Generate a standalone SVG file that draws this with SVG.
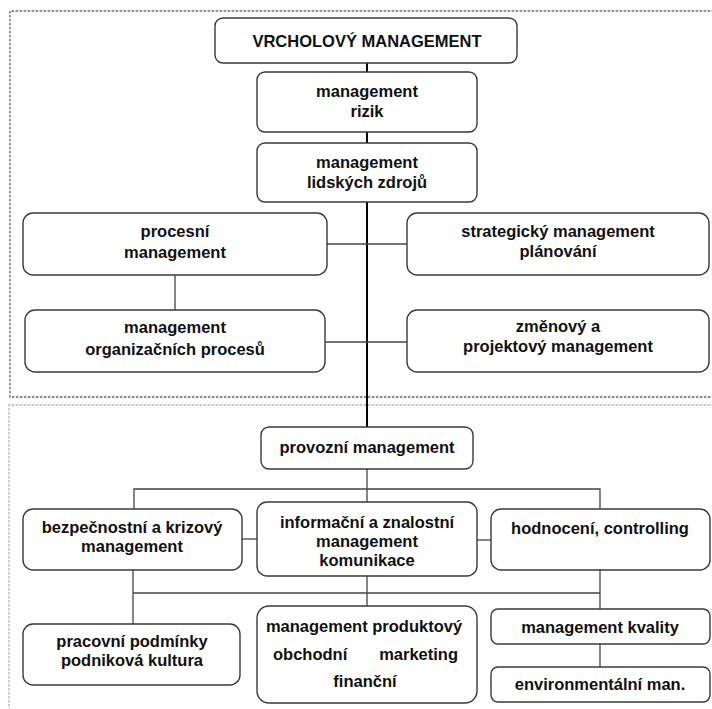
<svg xmlns="http://www.w3.org/2000/svg" width="712" height="709" viewBox="0 0 712 709">
  <style>
    .box { fill: #ffffff; stroke: #3a3a3a; stroke-width: 1.4; }
    .lbl { font-family: "Liberation Sans", Arial, sans-serif; font-weight: bold; font-size: 16.5px; fill: #111111; text-anchor: middle; }
    .lbl-l { font-family: "Liberation Sans", Arial, sans-serif; font-weight: bold; font-size: 16.5px; fill: #111111; }
    .lbl-r { font-family: "Liberation Sans", Arial, sans-serif; font-weight: bold; font-size: 16.5px; fill: #111111; text-anchor: end; }
    .conn { stroke: #444444; stroke-width: 1.3; fill: none; }
    .spine { stroke: #000000; stroke-width: 2; fill: none; }
    .zone-top { fill: none; stroke: #666666; stroke-width: 1.3; stroke-dasharray: 2.5 1.5; }
    .zone-bottom { fill: none; stroke: #b0b0b0; stroke-width: 1.3; stroke-dasharray: 2.5 1.5; }
  </style>

  <!-- level zones -->
  <g id="zones">
    <path class="zone-top" d="M714,11 H10 V397 H714"/>
    <path class="zone-bottom" d="M714,405 H9 V712"/>
  </g>

  <!-- connectors -->
  <g id="connectors">
    <line class="spine" x1="367" y1="63" x2="367" y2="427"/>
    <line class="conn" x1="327" y1="244" x2="407" y2="244"/>
    <line class="conn" x1="325" y1="342" x2="407" y2="342"/>
    <line class="conn" x1="175" y1="275" x2="175" y2="310"/>
    <line class="conn" x1="367" y1="469" x2="367" y2="502"/>
    <polyline class="conn" points="134,509 134,489 600,489 600,509"/>
    <line class="conn" x1="242" y1="539" x2="257" y2="539"/>
    <line class="conn" x1="477" y1="540" x2="491" y2="540"/>
    <line class="conn" x1="133" y1="570" x2="133" y2="624"/>
    <line class="conn" x1="133" y1="593" x2="600" y2="593"/>
    <line class="conn" x1="367" y1="576" x2="367" y2="606"/>
    <line class="conn" x1="600" y1="570" x2="600" y2="609"/>
    <line class="conn" x1="600" y1="644" x2="600" y2="667"/>
  </g>

  <g id="vrcholovy">
    <rect class="box" x="215" y="18" width="302" height="45" rx="8"/>
    <text class="lbl" x="367" y="47">VRCHOLOVÝ MANAGEMENT</text>
  </g>

  <g id="rizika">
    <rect class="box" x="257" y="72" width="220" height="60" rx="8"/>
    <text class="lbl" x="367" y="97">management</text>
    <text class="lbl" x="367" y="117">rizik</text>
  </g>

  <g id="lidske-zdroje">
    <rect class="box" x="257" y="143" width="220" height="59" rx="8"/>
    <text class="lbl" x="367" y="168">management</text>
    <text class="lbl" x="367" y="188">lidských zdrojů</text>
  </g>

  <g id="procesni">
    <rect class="box" x="23" y="213" width="304" height="62" rx="10"/>
    <text class="lbl" x="175" y="237">procesní</text>
    <text class="lbl" x="175" y="258">management</text>
  </g>

  <g id="strategicky">
    <rect class="box" x="407" y="213" width="302" height="62" rx="10"/>
    <text class="lbl" x="558" y="237">strategický management</text>
    <text class="lbl" x="558" y="257">plánování</text>
  </g>

  <g id="organizacni-procesy">
    <rect class="box" x="25" y="310" width="300" height="62" rx="10"/>
    <text class="lbl" x="175" y="333">management</text>
    <text class="lbl" x="175" y="355">organizačních procesů</text>
  </g>

  <g id="zmenovy">
    <rect class="box" x="407" y="310" width="302" height="62" rx="10"/>
    <text class="lbl" x="558" y="332">změnový a</text>
    <text class="lbl" x="558" y="352">projektový management</text>
  </g>

  <g id="provozni">
    <rect class="box" x="261" y="427" width="212" height="42" rx="8"/>
    <text class="lbl" x="367" y="453">provozní management</text>
  </g>

  <g id="bezpecnostni">
    <rect class="box" x="23" y="509" width="219" height="61" rx="10"/>
    <text class="lbl" x="132" y="533">bezpečnostní a krizový</text>
    <text class="lbl" x="132" y="552">management</text>
  </g>

  <g id="informacni">
    <rect class="box" x="257" y="502" width="220" height="74" rx="10"/>
    <text class="lbl" x="367" y="528">informační a znalostní</text>
    <text class="lbl" x="367" y="547">management</text>
    <text class="lbl" x="367" y="566">komunikace</text>
  </g>

  <g id="hodnoceni">
    <rect class="box" x="491" y="509" width="219" height="61" rx="10"/>
    <text class="lbl" x="600" y="534">hodnocení, controlling</text>
  </g>

  <g id="pracovni">
    <rect class="box" x="23" y="624" width="217" height="61" rx="10"/>
    <text class="lbl" x="132" y="647">pracovní podmínky</text>
    <text class="lbl" x="132" y="666">podniková kultura</text>
  </g>

  <g id="produktovy">
    <rect class="box" x="257" y="606" width="220" height="97" rx="12"/>
    <text class="lbl" x="364" y="632">management produktový</text>
    <text class="lbl-l" x="273" y="660">obchodní</text>
    <text class="lbl-r" x="458" y="660">marketing</text>
    <text class="lbl" x="365" y="687">finanční</text>
  </g>

  <g id="kvalita">
    <rect class="box" x="491" y="609" width="219" height="35" rx="7"/>
    <text class="lbl" x="600" y="633">management kvality</text>
  </g>

  <g id="environmentalni">
    <rect class="box" x="491" y="667" width="219" height="35" rx="7"/>
    <text class="lbl" x="600" y="690">environmentální man.</text>
  </g>
</svg>
